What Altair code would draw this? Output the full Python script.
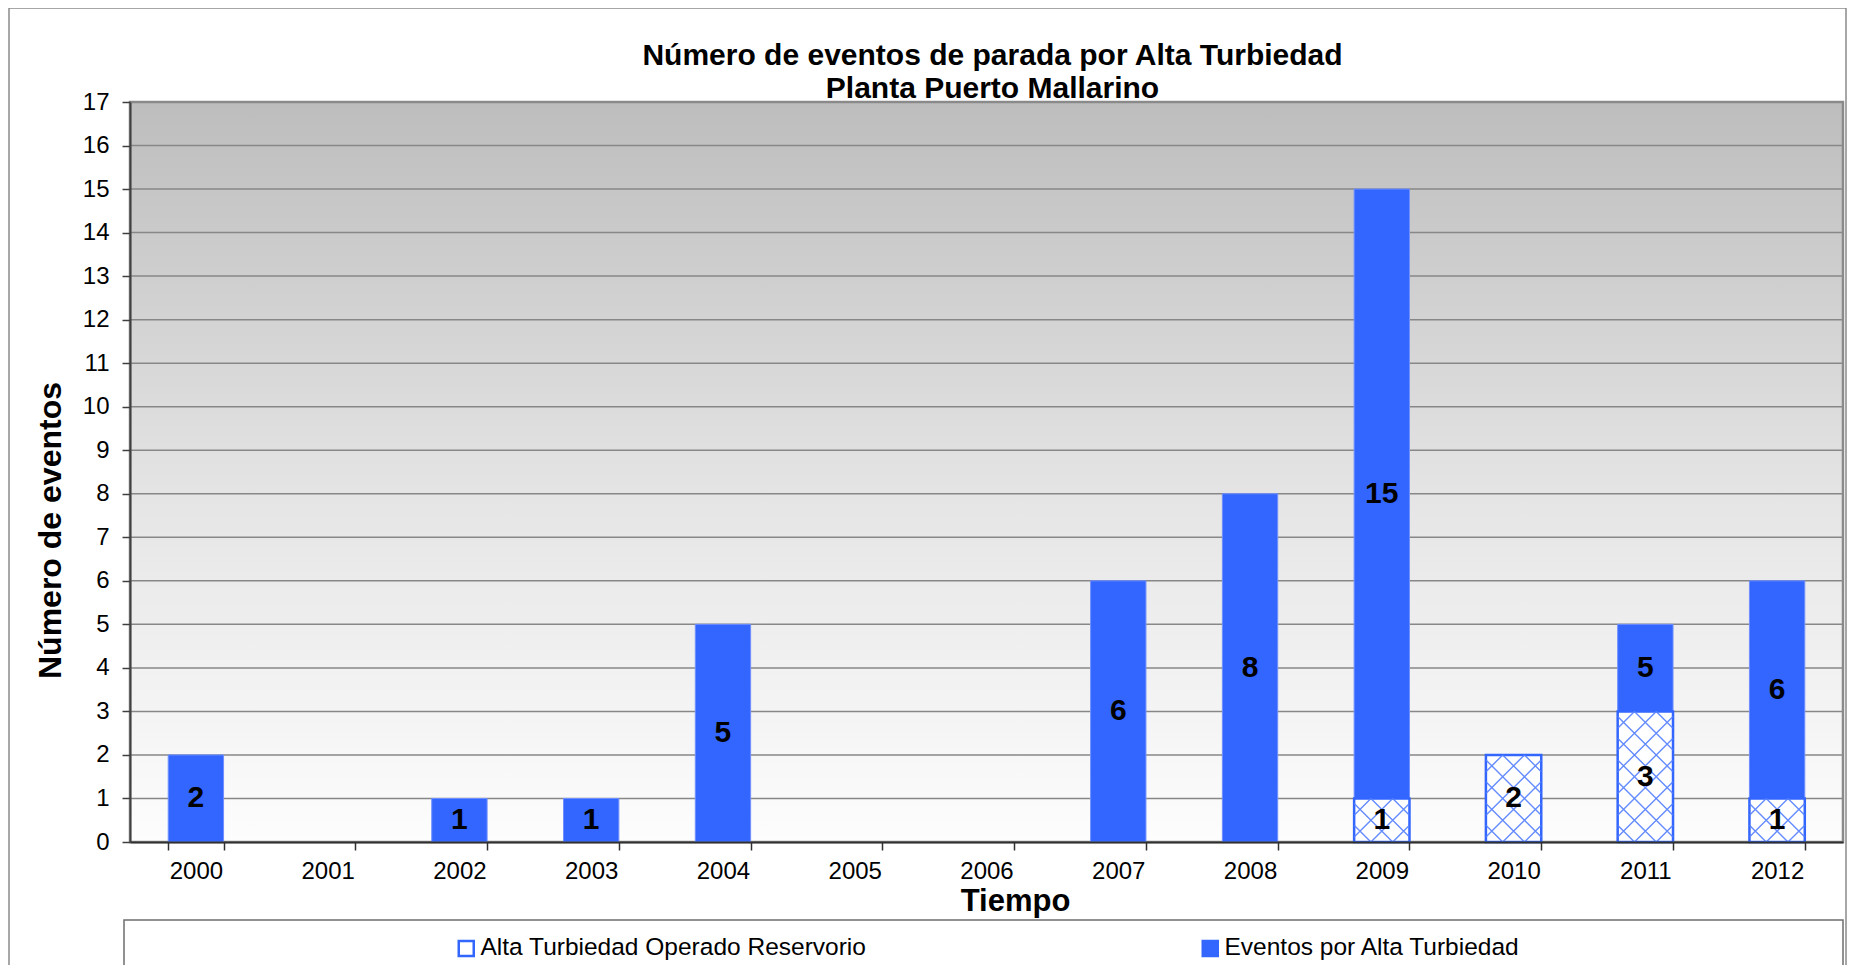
import altair as alt
import pandas as pd

# ---------------- data ----------------
years = ["2000", "2001", "2002", "2003", "2004", "2005", "2006",
         "2007", "2008", "2009", "2010", "2011", "2012"]
eventos = [2, 0, 1, 1, 5, 0, 0, 6, 8, 15, 0, 5, 6]          # Eventos por Alta Turbiedad
reservorio = [0, 0, 0, 0, 0, 0, 0, 0, 0, 1, 2, 3, 1]        # Alta Turbiedad Operado Reservorio
y_ticks = list(range(0, 18))
series_names = ["Alta Turbiedad Operado Reservorio", "Eventos por Alta Turbiedad"]
title_lines = ["Número de eventos de parada por Alta Turbiedad", "Planta Puerto Mallarino"]
x_title = "Tiempo"
y_title = "Número de eventos"

# ---------------- style / layout ----------------
W, H = 1713, 740
BLUE = "#3366ff"
FONT = "Liberation Sans"
PAD_INNER = 0.58
PAD_OUTER = 0.29
YMAX = 17

df = pd.DataFrame({"year": years, "eventos": eventos, "reservorio": reservorio})
grid_df = pd.DataFrame({"v": y_ticks})
one = pd.DataFrame({"k": [0]})

# bar width / unit height, used for the hatch tile symbol
step = W / (len(years) - PAD_INNER + 2 * PAD_OUTER)
bw = step * (1 - PAD_INNER)
unit_h = H / YMAX


def hatch_path(cw, ch, n_periods=2):
    p = ch / n_periods
    hw, hh = cw / 2, ch / 2
    s = 2.0 / cw
    parts = []
    for fam in (1, -1):
        for k in range(-30, 31):
            c = k * p + p / 2
            x0 = max(c - hh, -hw)
            x1 = min(c + hh, hw)
            if x1 - x0 < 0.5:
                continue
            if fam == 1:
                ya, yb = c - x0, c - x1
            else:
                ya, yb = x0 - c, x1 - c
            parts.append("M%.4f,%.4f L%.4f,%.4f" % (x0 * s, ya * s, x1 * s, yb * s))
    return " ".join(parts)


HATCH = hatch_path(bw, unit_h, 2)

x_scale = alt.Scale(domain=years, paddingInner=PAD_INNER, paddingOuter=PAD_OUTER)
y_scale = alt.Scale(domain=[0, YMAX], nice=False, zero=True)

x_axis = alt.Axis(
    title=x_title, tickBand="extent", labelAngle=0, grid=False,
    domainColor="#303030", domainWidth=2, tickColor="#303030", tickWidth=1.5, tickSize=8,
    labelFontSize=24, labelFont=FONT, labelColor="black", labelPadding=9,
    titleFontSize=31, titleFont=FONT, titleFontWeight="bold", titleColor="black",
    titleX=885, titleY=59, titleBaseline="middle", titleAlign="center", zindex=1,
)
y_axis = alt.Axis(
    title=y_title, values=y_ticks, grid=False,
    domainColor="#404040", domainWidth=2, tickColor="#404040", tickWidth=1.5, tickSize=8,
    labelFontSize=24, labelFont=FONT, labelColor="black", labelPadding=13,
    titleFontSize=32, titleFont=FONT, titleFontWeight="bold", titleColor="black",
    titleAngle=270, titleX=-80, titleY=428, titleBaseline="middle", titleAlign="center", zindex=1,
)

X = alt.X("year:N", scale=x_scale, sort=years, axis=x_axis)

fill_scale = alt.Scale(domain=series_names, range=["white", BLUE])
legend = alt.Legend(
    orient="none", legendX=324, legendY=834, direction="horizontal", title=None,
    symbolType="square", symbolSize=225, symbolStrokeColor=BLUE, symbolStrokeWidth=2.5,
    labelFontSize=24.5, labelFont=FONT, labelColor="black", labelOffset=2, labelLimit=0,
    columnPadding=330, padding=0,
)
FILL = alt.Fill("series:N", scale=fill_scale, legend=legend)

gradient = alt.LinearGradient(
    gradient="linear",
    stops=[alt.GradientStop(offset=0, color="#bdbdbd"),
           alt.GradientStop(offset=0.55, color="#e6e6e6"),
           alt.GradientStop(offset=1, color="#fdfdfd")],
    x1=0, x2=0, y1=0, y2=1,
)

bg = alt.Chart(one).mark_rect(color=gradient).encode(
    x=alt.value(0), x2=alt.value(W), y=alt.value(0), y2=alt.value(H)
)

grid = alt.Chart(grid_df).mark_rule(color="#878787", strokeWidth=1.5).encode(
    y=alt.Y("v:Q", scale=y_scale, axis=y_axis), x=alt.value(0), x2=alt.value(W)
)

frame = alt.Chart(one).mark_rect(fillOpacity=0, stroke="#8a8a8a", strokeWidth=2.5).encode(
    x=alt.value(0), x2=alt.value(W), y=alt.value(0), y2=alt.value(H)
)

blue_bars = alt.Chart(df).transform_filter("datum.eventos > 0").transform_calculate(
    series="'%s'" % series_names[1]
).mark_bar(stroke="#6f8fff", strokeWidth=1).encode(
    x=X,
    y=alt.Y("eventos:Q", scale=y_scale, axis=y_axis),
    fill=FILL,
)

hatch_bars = alt.Chart(df).transform_filter("datum.reservorio > 0").transform_calculate(
    series="'%s'" % series_names[0]
).mark_bar(stroke=BLUE, strokeWidth=2.5).encode(
    x=X,
    y=alt.Y("reservorio:Q", scale=y_scale, axis=y_axis),
    fill=FILL,
)

hatch = alt.Chart(df).transform_filter("datum.reservorio > 0").transform_calculate(
    units="sequence(0, datum.reservorio)"
).transform_flatten(["units"]).transform_calculate(
    yc="datum.units + 0.5"
).mark_point(
    shape=HATCH, size=bw * bw, filled=False, color="#5580ff", strokeWidth=1.4, opacity=0.9
).encode(
    x=X, y=alt.Y("yc:Q", scale=y_scale, axis=y_axis)
)

blue_labels = alt.Chart(df).transform_filter("datum.eventos > 0").transform_calculate(
    mid="(datum.reservorio + datum.eventos) / 2"
).mark_text(
    font=FONT, fontSize=30, fontWeight="bold", color="black", baseline="middle"
).encode(
    x=X, y=alt.Y("mid:Q", scale=y_scale, axis=y_axis), text="eventos:Q"
)

hatch_labels = alt.Chart(df).transform_filter("datum.reservorio > 0").transform_calculate(
    mid2="datum.reservorio / 2"
).mark_text(
    font=FONT, fontSize=30, fontWeight="bold", color="black", baseline="middle"
).encode(
    x=X, y=alt.Y("mid2:Q", scale=y_scale, axis=y_axis), text="reservorio:Q"
)

title_text = alt.Chart(one).mark_text(
    font=FONT, fontSize=30, fontWeight="bold", color="black",
    baseline="middle", align="center", lineHeight=33,
).encode(
    x=alt.value(W / 2 + 6), y=alt.value(-46), text=alt.value(title_lines)
)

legend_box = alt.Chart(one).mark_rect(fillOpacity=0, stroke="#6e6e6e", strokeWidth=1.5).encode(
    x=alt.value(-6), x2=alt.value(W), y=alt.value(818), y2=alt.value(H + 300)
)

outer_box = alt.Chart(one).mark_rect(fillOpacity=0, stroke="#8a8a8a", strokeWidth=1.5).encode(
    x=alt.value(-121), x2=alt.value(1716), y=alt.value(-94), y2=alt.value(H + 400)
)

chart = alt.layer(
    bg, grid, frame, blue_bars, hatch_bars, hatch, blue_labels, hatch_labels,
    title_text, legend_box, outer_box
).properties(
    width=W,
    height=H,
    padding={"left": 122, "top": 94, "right": 5, "bottom": 123},
    autosize=alt.AutoSizeParams(type="none"),
).configure_view(
    stroke=None
).configure(
    font=FONT, background="white"
)

chart.save("out.html", embed_options={"renderer": "svg", "actions": False})
